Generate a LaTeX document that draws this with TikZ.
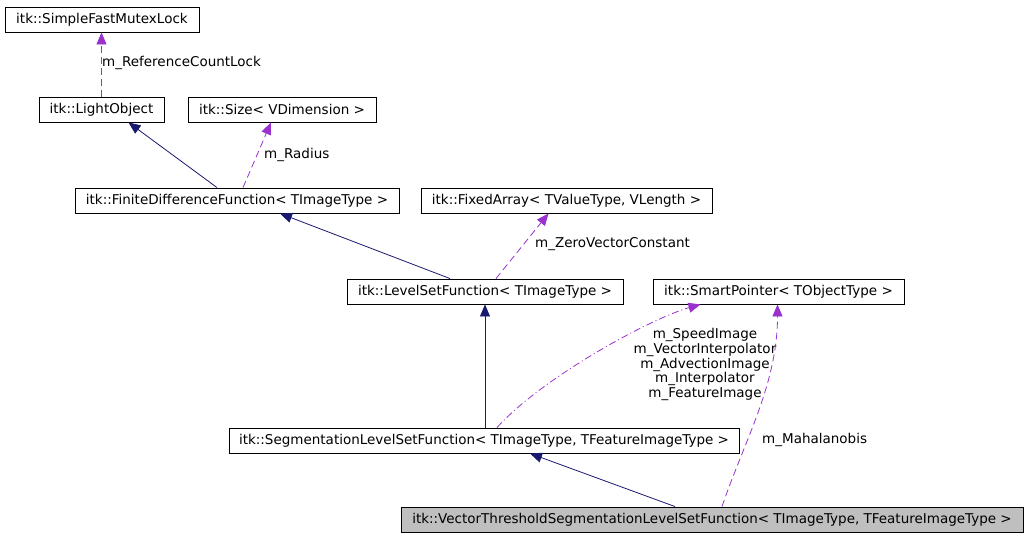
\documentclass[tikz,border=0pt]{standalone}
\usepackage{fontspec}
\setmainfont{DejaVu Sans}
\usetikzlibrary{arrows.meta}
\definecolor{navyedge}{HTML}{191970}
\definecolor{purpedge}{HTML}{9A32CD}
\definecolor{boxgray}{HTML}{BFBFBF}
\begin{document}
\begin{tikzpicture}[x=1pt,y=-1pt,
  font=\fontsize{13.5}{14.7}\selectfont,
  cls/.style={draw=black,line width=0.9pt,inner sep=0pt,minimum height=25pt,anchor=center},
  inh/.style={draw=navyedge,line width=0.8pt,-{Triangle[width=10pt,length=12pt]}},
  use/.style={draw=purpedge,line width=0.8pt,dash pattern=on 7pt off 4pt,-{Triangle[width=10pt,length=12pt]}},
  usedot/.style={draw=purpedge,line width=0.8pt,dash pattern=on 7pt off 3pt on 1pt off 3pt,-{Triangle[width=10pt,length=12pt]}},
  lbl/.style={inner sep=0pt,text=black}]
\useasboundingbox (0,0) rectangle (1028,536);
\fill[white] (0,0) rectangle (1028,536);

\node[cls,minimum width=194pt] (sfml) at (102,19.5) {itk::SimpleFastMutexLock};
\node[cls,minimum width=125pt] (light) at (101.5,109.5) {itk::LightObject};
\node[cls,minimum width=188pt] (size) at (282,109.5) {itk::Size< VDimension >};
\node[cls,minimum width=324pt] (fdf) at (237,200.5) {itk::FiniteDifferenceFunction< TImageType >};
\node[cls,minimum width=291pt] (fixed) at (566.5,200.5) {itk::FixedArray< TValueType, VLength >};
\node[cls,minimum width=276pt] (lsf) at (485,291.5) {itk::LevelSetFunction< TImageType >};
\node[cls,minimum width=251pt] (smart) at (778.5,291.5) {itk::SmartPointer< TObjectType >};
\node[cls,minimum width=510pt] (seg) at (484,440.5) {itk::SegmentationLevelSetFunction< TImageType, TFeatureImageType >};
\node[cls,minimum width=622pt,fill=boxgray] (vt) at (712,519.5) {itk::VectorThresholdSegmentationLevelSetFunction< TImageType, TFeatureImageType >};

% edges
\draw[use] (light.north) -- (light.north |- sfml.south);
\node[lbl,anchor=west] (l1) at (102,63) {m\_ReferenceCountLock};

\draw[inh] ([xshift=-20pt]fdf.north) -- ([xshift=27pt]light.south);
\draw[use] ([xshift=6pt]fdf.north) -- ([xshift=-11pt]size.south);
\node[lbl,anchor=west] (l2) at (264,155) {m\_Radius};

\draw[inh] ([xshift=-35pt]lsf.north) -- ([xshift=43pt]fdf.south);
\draw[use] ([xshift=11pt]lsf.north) -- ([xshift=-18pt]fixed.south);
\node[lbl,anchor=west] (l3) at (535,244) {m\_ZeroVectorConstant};

\draw[inh] (lsf.south |- seg.north) -- (lsf.south);
\draw[usedot] ([xshift=13pt]seg.north) .. controls +(45,-50) and +(-50,14) .. ([xshift=-78pt]smart.south);
\node[lbl,align=center] (l4) at (705,364.5) {m\_SpeedImage\\m\_VectorInterpolator\\m\_AdvectionImage\\m\_Interpolator\\m\_FeatureImage};

\draw[inh] ([xshift=-37pt]vt.north) -- ([xshift=46pt]seg.south);
\draw[use] ([xshift=10pt]vt.north) .. controls +(22,-65) and +(0,80) .. ([xshift=-1pt]smart.south);
\node[lbl,anchor=west] (l5) at (762,440) {m\_Mahalanobis};
\end{tikzpicture}
\end{document}
